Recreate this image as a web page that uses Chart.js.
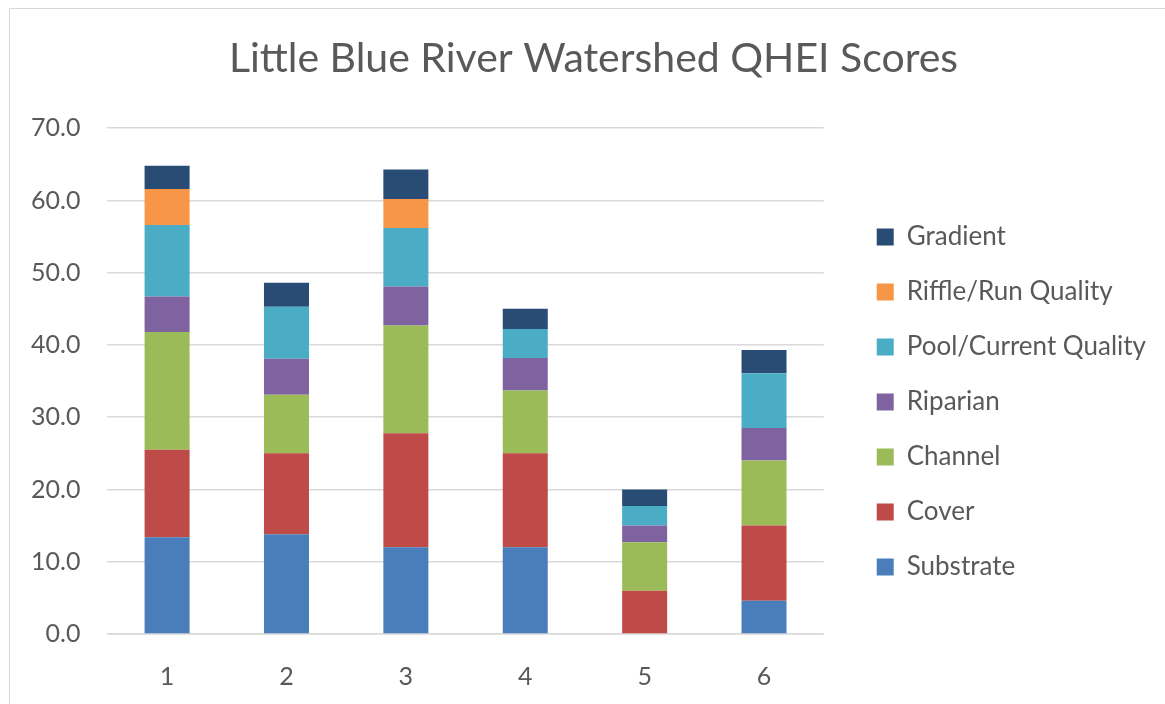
<!DOCTYPE html>
<html>
<head>
<meta charset="utf-8">
<script src="https://cdn.jsdelivr.net/npm/chart.js@4/dist/chart.umd.min.js"></script>
<style>
  html, body { margin: 0; padding: 0; background: #fff; }
  #wrap { position: relative; width: 1165px; height: 704px; overflow: hidden; }
  #frame { position: absolute; left: 9px; top: 8px; width: 1200px; height: 720px;
           border-left: 1px solid #d9d9d9; border-top: 1px solid #d9d9d9; }
  #chart { position: absolute; left: 0; top: 0; }
</style>
</head>
<body>
<div id="wrap">
  <div id="frame"></div>
  <canvas id="chart" width="1165" height="704"></canvas>
</div>
<script>
// sites 1-6, QHEI metric scores stacked bottom to top
var sites = ['1', '2', '3', '4', '5', '6'];
var substrate = [13.4, 13.8, 12.0, 12.0, 0.0, 4.6];
var cover     = [12.1, 11.2, 15.8, 13.0, 6.0, 10.4];
var channel   = [16.3, 8.1, 14.9, 8.7, 6.7, 9.0];
var riparian  = [4.9, 5.0, 5.4, 4.5, 2.3, 4.5];
var pool      = [9.9, 7.2, 8.1, 4.0, 2.7, 7.6];
var riffle    = [5.0, 0.0, 4.0, 0.0, 0.0, 0.0];
var gradient  = [3.2, 3.3, 4.1, 2.8, 2.3, 3.2];
var yTicks = [0, 10, 20, 30, 40, 50, 60, 70];

var textColor = '#595959';
var gridColor = '#d9d9d9';
var fontFamily = 'Lato, "Open Sans", sans-serif';

function series(label, data, color) {
    return {
        label: label,
        data: data,
        backgroundColor: color,
        borderWidth: 0,
        barPercentage: 0.377,
        categoryPercentage: 1.0
    };
}

// nudge legend and title after layout so the plot keeps its width
var boxShift = {
    id: 'boxShift',
    afterLayout: function(chart) {
        var lg = chart.legend;
        if (lg) {
            lg.left += 24; lg.right += 24;
            lg.top += 55; lg.bottom += 55;
        }
        var t = chart.titleBlock;
        if (t) {
            t.left += 13; t.right += 13;
        }
    }
};

new Chart(document.getElementById('chart').getContext('2d'), {
    type: 'bar',
    data: {
        labels: sites,
        datasets: [
            series('Substrate', substrate, '#4a7ebb'),
            series('Cover', cover, '#be4b48'),
            series('Channel', channel, '#9bbb59'),
            series('Riparian', riparian, '#7f63a0'),
            series('Pool/Current Quality', pool, '#4bacc6'),
            series('Riffle/Run Quality', riffle, '#f79646'),
            series('Gradient', gradient, '#284c74')
        ]
    },
    options: {
        responsive: false,
        animation: false,
        layout: { padding: { left: 29, right: 33, bottom: 10, top: 0 } },
        plugins: {
            title: {
                display: true,
                text: 'Little Blue River Watershed QHEI Scores',
                color: textColor,
                font: { family: fontFamily, size: 41, weight: 'normal' },
                padding: { top: 34, bottom: 45 }
            },
            legend: {
                position: 'right',
                reverse: true,
                maxWidth: 340,
                labels: {
                    color: textColor,
                    font: { family: fontFamily, size: 26 },
                    boxWidth: 17,
                    boxHeight: 17,
                    padding: 29
                }
            },
            tooltip: { enabled: false }
        },
        scales: {
            x: {
                stacked: true,
                grid: { display: false, drawTicks: true, tickLength: 26, tickColor: 'rgba(0,0,0,0)' },
                border: { display: true, color: gridColor, width: 1.5 },
                ticks: {
                    color: textColor,
                    font: { family: fontFamily, size: 25 },
                    padding: 2
                }
            },
            y: {
                stacked: true,
                min: 0,
                max: 70,
                afterBuildTicks: function(axis) {
                    axis.ticks = yTicks.map(function(v) { return { value: v }; });
                },
                grid: { color: gridColor, lineWidth: 1.5, drawTicks: true, tickLength: 25, tickColor: 'rgba(0,0,0,0)' },
                border: { display: false },
                ticks: {
                    color: textColor,
                    font: { family: fontFamily, size: 25 },
                    padding: 2,
                    callback: function(v) { return v.toFixed(1); }
                }
            }
        }
    },
    plugins: [boxShift]
});
</script>
</body>
</html>
